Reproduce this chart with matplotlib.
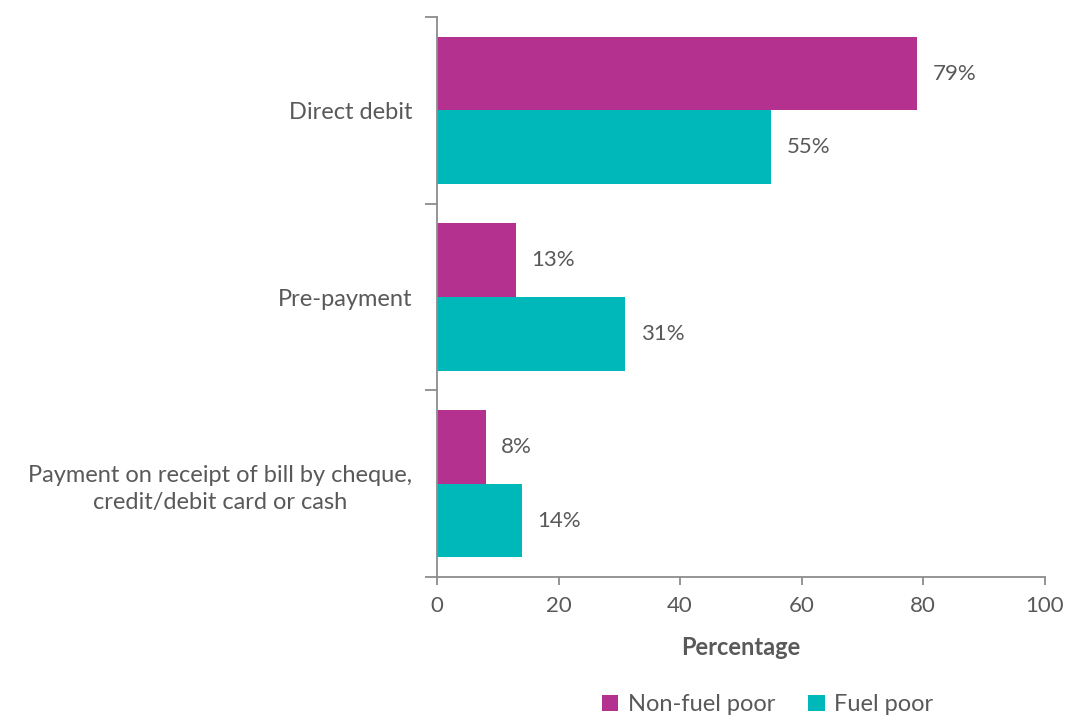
import matplotlib.pyplot as plt
import numpy as np
from matplotlib.patches import Patch

plt.rcParams['font.family'] = ['Lato', 'DejaVu Sans']

categories = ["Direct debit", "Pre-payment",
              "Payment on receipt of bill by cheque,\ncredit/debit card or cash"]
non_fuel_poor = [79, 13, 8]
fuel_poor = [55, 31, 14]
x_ticks = [0, 20, 40, 60, 80, 100]

purple = "#B5318F"
teal = "#00B8BA"
grey_text = "#595959"
axis_grey = "#8C8C8C"

fig = plt.figure(figsize=(10.66, 7.15), dpi=100)
ax = fig.add_axes([0.41, 0.193, 0.570, 0.783])

y = np.arange(len(categories))
h = 0.395
bars1 = ax.barh(y - h / 2, non_fuel_poor, height=h, color=purple, label="Non-fuel poor")
bars2 = ax.barh(y + h / 2, fuel_poor, height=h, color=teal, label="Fuel poor")

for bars, vals in ((bars1, non_fuel_poor), (bars2, fuel_poor)):
    for b, v in zip(bars, vals):
        ax.text(v + 2.5, b.get_y() + b.get_height() / 2, f"{v}%",
                va="center", ha="left", fontsize=16, color=grey_text)

ax.set_xlim(0, 100)
ax.set_ylim(len(categories) - 0.5, -0.5)
ax.set_xticks(x_ticks)
ax.set_xticklabels([str(t) for t in x_ticks])

# category labels at centres, tick marks on the group boundaries
ax.set_yticks(y)
ax.set_yticklabels(categories, ha="right", multialignment="center", linespacing=1.35)
ax.tick_params(axis="y", which="major", length=0, pad=18, labelsize=17, labelcolor=grey_text)
ax.set_yticks(np.arange(-0.5, len(categories)), minor=True)
ax.tick_params(axis="y", which="minor", length=9, width=1.3, color=axis_grey, direction="out")
ax.tick_params(axis="x", length=6, width=1.3, color=axis_grey, labelsize=16,
               labelcolor=grey_text, pad=8)

for s in ("top", "right"):
    ax.spines[s].set_visible(False)
for s in ("left", "bottom"):
    ax.spines[s].set_color(axis_grey)
    ax.spines[s].set_linewidth(1.3)

ax.set_xlabel("Percentage", fontsize=17, fontweight="bold", color=grey_text, labelpad=14)

handles = [Patch(facecolor=purple, label="Non-fuel poor"),
           Patch(facecolor=teal, label="Fuel poor")]
fig.legend(handles=handles, loc="lower center", bbox_to_anchor=(0.72, -0.03), ncol=2,
           frameon=False, fontsize=17, labelcolor=grey_text, handlelength=0.7,
           handleheight=0.7, handletextpad=0.4, columnspacing=1.4)

fig.savefig("out.png", dpi=100)
